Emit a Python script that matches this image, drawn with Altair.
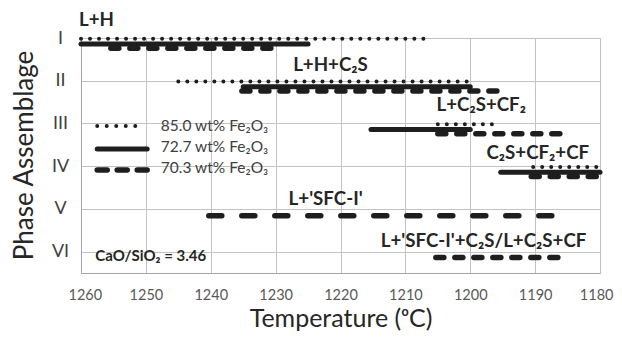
import altair as alt
import pandas as pd

FONT = "Lato"

# ---- data (temperatures in °C, rows: 1=I ... 6=VI) ----
dot_row = [1, 2, 3, 4]
dot_start = [1260, 1245, 1205, 1190.3]
dot_end = [1206, 1200.5, 1196, 1180]

sol_row = [1, 2, 3, 4]
sol_start = [1260, 1235, 1215.3, 1195.3]
sol_end = [1225, 1200, 1200, 1180]

dash_row = [1, 2, 3, 4, 6]
dash_start = [1255.4, 1235.2, 1205, 1190.6, 1205.3]
dash_end = [1230, 1195.4, 1185.7, 1180, 1185.7]

long_row = [5]
long_start = [1240.3]
long_end = [1186.2]

phase_text = ["L+H", "L+H+C₂S", "L+C₂S+CF₂", "C₂S+CF₂+CF", "L+'SFC-I'",
              "L+'SFC-I'+C₂S/L+C₂S+CF"]
phase_x = [1260.3, 1227.3, 1205.2, 1197.5, 1228.0, 1213.8]
phase_y = [0.57, 1.63, 2.57, 3.68, 4.77, 5.75]

series_names = ["85.0 wt% Fe₂O₃", "72.7 wt% Fe₂O₃", "70.3 wt% Fe₂O₃"]
roman = ["I", "II", "III", "IV", "V", "VI"]

# per-series vertical offsets (style)
OFF_DOT, OFF_SOL, OFF_DASH = 0.02, 0.14, 0.24

def seg(rows, s, e, off):
    return pd.DataFrame({"y": [r + off for r in rows], "x": s, "x2": e})

df_dot = seg(dot_row, dot_start, dot_end, OFF_DOT)
df_sol = seg(sol_row, sol_start, sol_end, OFF_SOL)
df_dash = seg(dash_row, dash_start, dash_end, OFF_DASH)
df_dash.loc[df_dash["y"] > 5.5, "y"] = 6 + 0.14
df_long = seg(long_row, long_start, long_end, 0.16)

xs = alt.Scale(domain=[1180, 1260], reverse=True, nice=False)
ys = alt.Scale(domain=[1, 6.5], reverse=True, nice=False, zero=False)

label_expr = "[" + ",".join("'%s'" % r for r in roman) + "][datum.value-1]"

xenc = alt.X("x:Q", scale=xs, axis=alt.Axis(
    title="Temperature (ᵒC)", values=list(range(1180, 1261, 10)), format="d",
    grid=True, gridColor="#c3c3c3", domainColor="#a6a6a6", ticks=False,
    labelFlush=True, labelFlushOffset=13, labelOverlap=False,
    labelFont=FONT, labelFontSize=14.5, labelColor="#595959", labelPadding=15,
    titleFont=FONT, titleFontSize=25, titleFontWeight="normal",
    titleColor="#262626", titlePadding=5))
yenc = alt.Y("y:Q", scale=ys, axis=alt.Axis(
    title="Phase Assemblage", values=[1, 2, 3, 4, 5, 6], labelExpr=label_expr,
    grid=True, gridColor="#c3c3c3", domainColor="#a6a6a6", ticks=False,
    labelFlush=False, labelOverlap=False,
    labelFont=FONT, labelFontSize=18, labelColor="#404040", labelPadding=21,
    labelAlign="center", labelBaseline="middle",
    titleFont=FONT, titleFontSize=26, titleFontWeight="normal",
    titleColor="#262626", titleX=-57, titleY=117, titleAngle=270,
    titleAlign="center", titleBaseline="middle"))

INK = "#1e1e1e"

dots = alt.Chart(df_dot).mark_rule(
    color=INK, strokeWidth=4, strokeCap="round", strokeDash=[0.01, 9]
).encode(x=xenc, x2="x2:Q", y=yenc)
solid = alt.Chart(df_sol).mark_rule(
    color=INK, strokeWidth=5, strokeCap="round"
).encode(x=alt.X("x:Q", scale=xs), x2="x2:Q", y=alt.Y("y:Q", scale=ys))
dashed = alt.Chart(df_dash).mark_rule(
    color=INK, strokeWidth=5.5, strokeCap="round", strokeDash=[8, 11]
).encode(x=alt.X("x:Q", scale=xs), x2="x2:Q", y=alt.Y("y:Q", scale=ys))
longd = alt.Chart(df_long).mark_rule(
    color=INK, strokeWidth=5.5, strokeCap="round", strokeDash=[13, 20]
).encode(x=alt.X("x:Q", scale=xs), x2="x2:Q", y=alt.Y("y:Q", scale=ys))

# legend (drawn in data coordinates inside the plot)
leg_x = [1257.5, 1257.5, 1257.5]
leg_x2 = [1251.2, 1249.8, 1249.8]
leg_y = [3.06, 3.6, 4.09]
leg_ty = [3.05, 3.55, 4.05]
leg_tx = 1247.7
leg_dash = [[0.01, 9.5], [1, 0], [10, 10]]
leg_w = [4, 5, 5.5]

legend_layers = []
for i in range(3):
    d = pd.DataFrame({"x": [leg_x[i]], "x2": [leg_x2[i]], "y": [leg_y[i]]})
    legend_layers.append(alt.Chart(d).mark_rule(
        color=INK, strokeWidth=leg_w[i], strokeCap="round",
        strokeDash=leg_dash[i]
    ).encode(x=alt.X("x:Q", scale=xs), x2="x2:Q", y=alt.Y("y:Q", scale=ys)))

df_legt = pd.DataFrame({"x": [leg_tx] * 3, "y": leg_ty, "t": series_names})
legtext = alt.Chart(df_legt).mark_text(
    align="left", baseline="middle", font=FONT, fontSize=15.5, color="#404040"
).encode(x=alt.X("x:Q", scale=xs), y=alt.Y("y:Q", scale=ys), text="t:N")

df_ph = pd.DataFrame({"x": phase_x, "y": phase_y, "t": phase_text})
phtext = alt.Chart(df_ph).mark_text(
    align="left", baseline="middle", font=FONT, fontSize=18.7,
    fontWeight="bold", color="#262626"
).encode(x=alt.X("x:Q", scale=xs), y=alt.Y("y:Q", scale=ys), text="t:N")

df_note = pd.DataFrame({"x": [1257.8], "y": [6.1], "t": ["CaO/SiO₂ = 3.46"]})
note = alt.Chart(df_note).mark_text(
    align="left", baseline="middle", font=FONT, fontSize=15,
    fontWeight="bold", color="#262626"
).encode(x=alt.X("x:Q", scale=xs), y=alt.Y("y:Q", scale=ys), text="t:N")

chart = alt.layer(dots, solid, dashed, longd, *legend_layers, legtext,
                  phtext, note).properties(
    width=519, height=235,
    autosize=alt.AutoSizeParams(type="none"),
    padding={"left": 73, "top": 30, "right": 14, "bottom": 59},
    background="white",
).configure_view(stroke="#a6a6a6", strokeWidth=1)

chart.save("out.html", embed_options={"renderer": "svg", "actions": False})
